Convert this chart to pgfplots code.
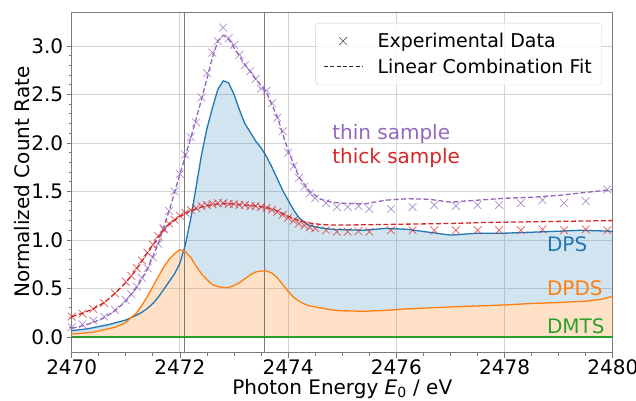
\documentclass[border=0pt]{standalone}
\usepackage{pgfplots}
\pgfplotsset{compat=1.18}
\usepgfplotslibrary{fillbetween}
\usepackage{pgfplotstable}
\usepackage{fontspec}
\setmainfont{DejaVu Sans}
\definecolor{tabblue}{HTML}{1F77B4}
\definecolor{taborange}{HTML}{FF7F0E}
\definecolor{tabgreen}{HTML}{2CA02C}
\definecolor{tabred}{HTML}{D62728}
\definecolor{tabpurple}{HTML}{9467BD}
\definecolor{gridc}{HTML}{D4D4D4}
\definecolor{spinec}{HTML}{7A7A7A}

\pgfplotstableread{
x y
2470.0 0.065
2470.3 0.085
2470.7 0.13
2471.0 0.175
2471.1 0.20
2471.2 0.225
2471.3 0.255
2471.4 0.295
2471.5 0.345
2471.6 0.41
2471.7 0.49
2471.8 0.57
2471.9 0.65
2472.0 0.76
2472.1 0.95
2472.2 1.22
2472.3 1.55
2472.4 1.88
2472.5 2.15
2472.6 2.36
2472.7 2.55
2472.8 2.64
2472.9 2.62
2473.0 2.50
2473.1 2.34
2473.2 2.20
2473.3 2.11
2473.4 2.02
2473.5 1.95
2473.6 1.86
2473.7 1.75
2473.8 1.63
2473.9 1.51
2474.0 1.41
2474.1 1.31
2474.2 1.23
2474.3 1.18
2474.4 1.15
2474.6 1.125
2474.8 1.11
2475.1 1.105
2475.4 1.10
2475.8 1.12
2476.2 1.11
2476.6 1.08
2477.0 1.05
2477.5 1.07
2478.0 1.07
2478.5 1.08
2479.0 1.09
2479.4 1.10
2480.0 1.09
}\dps

\pgfplotstableread{
x y
2470.0 0.03
2470.4 0.05
2470.8 0.10
2471.0 0.15
2471.2 0.25
2471.3 0.33
2471.4 0.42
2471.5 0.52
2471.6 0.62
2471.7 0.72
2471.8 0.80
2471.9 0.86
2472.0 0.90
2472.1 0.88
2472.2 0.82
2472.3 0.73
2472.4 0.65
2472.5 0.59
2472.6 0.54
2472.7 0.52
2472.8 0.51
2472.9 0.51
2473.0 0.53
2473.1 0.56
2473.2 0.60
2473.3 0.64
2473.4 0.67
2473.5 0.68
2473.6 0.68
2473.7 0.66
2473.8 0.61
2473.9 0.54
2474.0 0.47
2474.1 0.41
2474.2 0.37
2474.3 0.34
2474.4 0.32
2474.6 0.30
2474.8 0.28
2475.0 0.27
2475.4 0.265
2475.8 0.275
2476.2 0.29
2476.6 0.30
2477.0 0.31
2477.5 0.32
2478.0 0.33
2478.5 0.345
2479.0 0.355
2479.5 0.37
2479.8 0.39
2480.0 0.42
}\dpds

\pgfplotstableread{
x y
2470.0 0.09
2470.2 0.115
2470.4 0.15
2470.6 0.20
2470.8 0.27
2471.0 0.37
2471.2 0.51
2471.4 0.70
2471.6 0.96
2471.8 1.30
2472.0 1.68
2472.2 2.05
2472.4 2.45
2472.6 2.88
2472.7 3.05
2472.8 3.11
2472.9 3.07
2473.0 2.98
2473.2 2.81
2473.4 2.66
2473.6 2.52
2473.8 2.27
2474.0 1.92
2474.2 1.65
2474.4 1.50
2474.6 1.42
2474.8 1.39
2475.0 1.38
2475.4 1.37
2475.8 1.41
2476.2 1.425
2476.6 1.42
2477.0 1.39
2477.5 1.41
2478.0 1.43
2478.5 1.44
2479.0 1.46
2479.5 1.49
2480.0 1.52
}\thinfit

\pgfplotstableread{
x y
2470.0 0.10
2470.2 0.13
2470.4 0.17
2470.6 0.21
2470.8 0.28
2471.0 0.38
2471.1 0.44
2471.2 0.52
2471.3 0.61
2471.4 0.71
2471.5 0.82
2471.6 0.96
2471.7 1.12
2471.8 1.30
2471.9 1.50
2472.0 1.68
2472.1 1.88
2472.2 2.06
2472.3 2.21
2472.4 2.47
2472.5 2.72
2472.6 2.93
2472.7 3.05
2472.8 3.19
2472.9 3.08
2473.0 3.01
2473.1 2.91
2473.2 2.80
2473.3 2.74
2473.4 2.66
2473.5 2.56
2473.6 2.54
2473.7 2.41
2473.8 2.26
2473.9 2.12
2474.0 1.90
2474.1 1.76
2474.2 1.64
2474.3 1.55
2474.4 1.48
2474.5 1.43
2474.7 1.38
2474.9 1.34
2475.1 1.34
2475.3 1.35
2475.5 1.32
2475.9 1.32
2476.3 1.34
2476.7 1.36
2477.1 1.35
2477.5 1.36
2477.9 1.36
2478.3 1.38
2478.7 1.41
2479.1 1.38
2479.5 1.40
2479.9 1.52
}\thindata

\pgfplotstableread{
x y
2470.0 0.21
2470.2 0.245
2470.4 0.29
2470.6 0.355
2470.8 0.45
2471.0 0.56
2471.2 0.70
2471.4 0.87
2471.6 1.03
2471.8 1.16
2472.0 1.245
2472.2 1.30
2472.4 1.34
2472.6 1.365
2472.8 1.375
2473.0 1.37
2473.2 1.36
2473.4 1.35
2473.6 1.335
2473.8 1.30
2474.0 1.245
2474.2 1.20
2474.4 1.175
2474.6 1.16
2474.8 1.155
2475.2 1.155
2475.8 1.16
2476.4 1.165
2477.0 1.17
2477.6 1.18
2478.2 1.185
2478.8 1.19
2479.4 1.195
2480.0 1.20
}\thickfit

\pgfplotstableread{
x y
2470.0 0.21
2470.2 0.24
2470.4 0.29
2470.6 0.35
2470.8 0.45
2471.0 0.57
2471.1 0.63
2471.2 0.71
2471.3 0.79
2471.4 0.87
2471.5 0.95
2471.6 1.04
2471.7 1.11
2471.8 1.17
2471.9 1.21
2472.0 1.25
2472.1 1.28
2472.2 1.31
2472.3 1.33
2472.4 1.35
2472.5 1.36
2472.6 1.37
2472.7 1.38
2472.8 1.38
2472.9 1.37
2473.0 1.37
2473.1 1.36
2473.2 1.36
2473.3 1.35
2473.4 1.35
2473.5 1.34
2473.6 1.33
2473.7 1.31
2473.8 1.29
2473.9 1.26
2474.0 1.23
2474.1 1.20
2474.2 1.17
2474.3 1.15
2474.4 1.13
2474.5 1.12
2474.7 1.10
2474.9 1.085
2475.1 1.085
2475.3 1.09
2475.5 1.085
2475.9 1.10
2476.3 1.10
2476.7 1.10
2477.1 1.10
2477.5 1.10
2477.9 1.10
2478.3 1.10
2478.7 1.11
2479.1 1.10
2479.5 1.11
2479.9 1.10
}\thickdata

\pgfplotstableread{
x y
2470 0
2480 0
}\dmts

\begin{document}
\begin{tikzpicture}[font=\fontsize{20}{24}\selectfont]
\begin{axis}[
  scale only axis,
  width=541.1pt, height=340.5pt,
  xmin=2470, xmax=2480, ymin=-0.16, ymax=3.35,
  xtick={2470,2472,2474,2476,2478,2480},
  minor x tick num=3,
  ytick={0,0.5,1,1.5,2,2.5,3},
  minor y tick num=4,
  tick align=outside, tick pos=left,
  major tick length=5pt, minor tick length=3pt,
  every tick/.append style={spinec, line width=0.8pt},
  grid=major,
  major grid style={gridc, line width=0.9pt},
  axis line style={spinec, line width=0.8pt},
  /pgf/number format/assume math mode=true,
  xticklabel style={/pgf/number format/.cd, set thousands separator={}, fixed, /tikz/yshift=1.5pt},
  yticklabel style={/pgf/number format/.cd, fixed, fixed zerofill, precision=1},
  xlabel={Photon Energy {\itshape E}\textsubscript{0} / eV},
  ylabel={Normalized Count Rate},
  every axis x label/.style={at={(axis description cs:0.5,-0.107)}, anchor=center, inner sep=0pt},
  every axis y label/.style={at={(axis description cs:-0.0918,0.5)}, anchor=center, rotate=90},
  legend style={at={(0.980,0.968)}, anchor=north east, draw=gray!35, rounded corners=3pt,
    fill=white, fill opacity=0.8, text opacity=1, font=\fontsize{19}{23}\selectfont,
    inner xsep=8pt, inner ysep=8pt, row sep=6pt, column sep=13pt},
  legend cell align=left,
]
\coordinate (O) at (rel axis cs:0,0);
\addplot[draw=none, name path=dpsp, forget plot] table {\dps};
\addplot[draw=none, name path=dpdsp, forget plot] table {\dpds};
\addplot[draw=none, name path=zerop, forget plot] table {\dmts};
\addplot[tabblue, fill opacity=0.2, draw=none, forget plot] fill between[of=dpsp and dpdsp, split, every segment no 1/.style={fill=none}];
\addplot[taborange, fill opacity=0.23, draw=none, forget plot] fill between[of=dpdsp and zerop];
\addplot[black!52, line width=0.9pt, forget plot] coordinates {(2472.08,-0.16) (2472.08,3.35)};
\addplot[black!52, line width=0.9pt, forget plot] coordinates {(2473.57,-0.16) (2473.57,3.35)};
\addplot[tabblue, line width=1.3pt, forget plot] table {\dps};
\addplot[taborange, line width=1.3pt, forget plot] table {\dpds};
\addplot[tabgreen, line width=1.3pt, forget plot] table {\dmts};
\addplot[tabred, line width=1.3pt, dash pattern=on 5pt off 2.5pt, forget plot] table {\thickfit};
\addplot[tabpurple, line width=1.3pt, dash pattern=on 5pt off 2.5pt, forget plot] table {\thinfit};
\addplot[only marks, mark=x, mark size=5.5pt, tabred, mark options={line width=0.7pt, opacity=0.75}, forget plot] table {\thickdata};
\addplot[only marks, mark=x, mark size=5.5pt, tabpurple, mark options={line width=0.7pt, opacity=0.75}, forget plot] table {\thindata};
\node[anchor=west, text=tabpurple] at (axis cs:2474.75,2.09) {thin sample};
\node[anchor=west, text=tabred] at (axis cs:2474.75,1.85) {thick sample};
\node[anchor=west, text=tabblue] at (axis cs:2478.72,0.96) {DPS};
\node[anchor=west, text=taborange] at (axis cs:2478.72,0.505) {DPDS};
\node[anchor=west, text=tabgreen] at (axis cs:2478.72,0.11) {DMTS};
\addlegendimage{legend image code/.code={\draw[black!65, line width=0.7pt] plot[mark=x, mark size=5.5pt] coordinates {(19pt,0cm)};}}
\addlegendentry{Experimental Data}
\addlegendimage{legend image code/.code={\draw[black!85, line width=1pt, dash pattern=on 4pt off 2.3pt] (0pt,0cm) -- (38pt,0cm);}}
\addlegendentry{Linear Combination Fit}
\end{axis}
\pgfresetboundingbox
\path[use as bounding box] (O) ++(-71.7pt,-47.5pt) rectangle ++(636pt,400pt);
\end{tikzpicture}
\end{document}
